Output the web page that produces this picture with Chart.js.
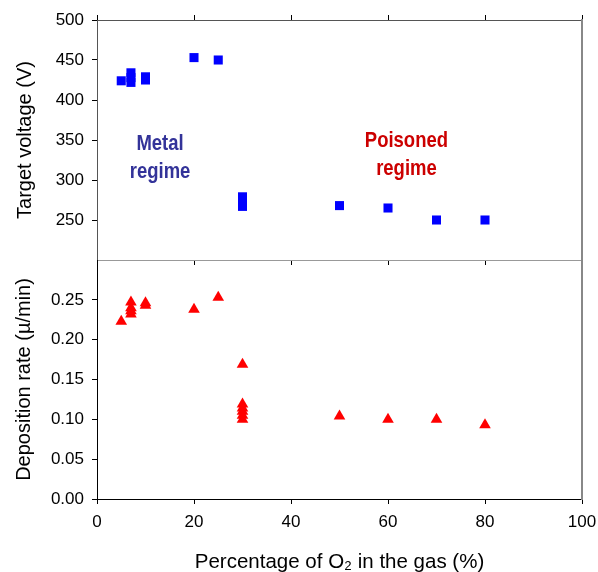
<!DOCTYPE html>
<html>
<head>
<meta charset="utf-8">
<script src="https://cdn.jsdelivr.net/npm/chart.js@4"></script>
<style>
  body { margin: 0; background: #fff; }
  #wrap { position: relative; width: 598px; height: 572px; overflow: hidden; }
  canvas { position: absolute; left: 0; top: 0; }
</style>
</head>
<body>
<div id="wrap">
  <canvas id="voltageChart" width="598" height="272"></canvas>
  <canvas id="rateChart" width="598" height="572"></canvas>
</div>
<script>
// O2 percentage for each measured point
const o2Voltage = [5, 7, 7, 7, 10, 10, 20, 25, 30, 30, 30, 50, 60, 70, 80];
const targetVoltage = [424, 434, 428, 422, 429, 425, 453, 450, 279, 273, 267, 268, 265, 250, 250];

const o2Rate = [5, 7, 7, 7, 7, 10, 10, 20, 25, 30, 30, 30, 30, 30, 30, 50, 60, 70, 80];
const depositionRate = [0.223, 0.247, 0.240, 0.236, 0.232, 0.246, 0.243, 0.238, 0.253, 0.169,
                        0.119, 0.114, 0.110, 0.105, 0.100, 0.104, 0.100, 0.100, 0.093];

const xTicks = [0, 20, 40, 60, 80, 100];
const voltageTicks = [250, 300, 350, 400, 450, 500];
const rateTicks = [0.00, 0.05, 0.10, 0.15, 0.20, 0.25];

const regimes = [
    { lines: ['Metal', 'regime'], x: 13, y: 345, color: '#333399' },
    { lines: ['Poisoned', 'regime'], x: 63.8, y: 349, color: '#cc0000' }
];

const FONT = "'Liberation Sans', Arial, sans-serif";
Chart.defaults.font.family = FONT;
Chart.defaults.color = '#000';

const toPoints = (xs, ys) => xs.map((x, i) => ({ x: x, y: ys[i] }));
const useTicks = list => scale => { scale.ticks = list.map(v => ({ value: v })); };

// text labels placed in data coordinates of the voltage panel
const regimeText = {
    id: 'regimeText',
    afterDatasetsDraw(chart) {
        const { ctx, scales } = chart;
        ctx.save();
        ctx.font = 'bold 22px ' + FONT;
        ctx.textAlign = 'center';
        ctx.textBaseline = 'middle';
        regimes.forEach(r => {
            const px = scales.x.getPixelForValue(r.x);
            const py = scales.y.getPixelForValue(r.y);
            ctx.fillStyle = r.color;
            r.lines.forEach((t, i) => {
                ctx.save();
                ctx.translate(px, py + i * 28);
                ctx.scale(0.84, 1);   // narrow face as in the original
                ctx.fillText(t, 0, 0);
                ctx.restore();
            });
        });
        ctx.restore();
    }
};

const xAxis = (pos, height, opts) => Object.assign({
    type: 'linear',
    position: pos,
    min: 0,
    max: 100,
    afterBuildTicks: useTicks(xTicks),
    ticks: { display: false },
    grid: { drawOnChartArea: false, color: '#000', tickLength: 5 },
    border: { color: '#555' },
    afterFit: s => { s.height = height; s.paddingLeft = 0; s.paddingRight = 0; }
}, opts);

const rightAxis = {
    position: 'right',
    ticks: { display: false },
    grid: { display: false },
    border: { color: '#888', width: 2 },
    afterFit: s => { s.width = 16; }
};

// Target voltage panel
new Chart(document.getElementById('voltageChart'), {
    type: 'scatter',
    data: {
        datasets: [{
            data: toPoints(o2Voltage, targetVoltage),
            pointStyle: 'rect',
            pointRadius: 6.4,
            backgroundColor: '#0000ff',
            borderWidth: 0
        }]
    },
    options: {
        responsive: false,
        animation: false,
        layout: { padding: 0 },
        plugins: { legend: { display: false }, tooltip: { enabled: false } },
        scales: {
            x: xAxis('bottom', 12, { border: { display: false } }),
            xTop: xAxis('top', 20, {}),
            y: {
                min: 200,
                max: 500,
                afterBuildTicks: useTicks(voltageTicks),
                ticks: { font: { size: 17 }, padding: 8 },
                grid: { drawOnChartArea: false, color: '#000', tickLength: 5 },
                border: { color: '#555' },
                title: {
                    display: true,
                    text: 'Target voltage (V)',
                    font: { size: 20 },
                    padding: { top: 13, bottom: 0 }
                },
                afterFit: s => { s.width = 97; s.paddingTop = 0; s.paddingBottom = 0; }
            },
            yRight: Object.assign({ min: 200, max: 500 }, rightAxis)
        }
    },
    plugins: [regimeText]
});

// Deposition rate panel
new Chart(document.getElementById('rateChart'), {
    type: 'scatter',
    data: {
        datasets: [{
            data: toPoints(o2Rate, depositionRate),
            pointStyle: 'triangle',
            pointRadius: 6.7,
            backgroundColor: '#ff0000',
            borderWidth: 0
        }]
    },
    options: {
        responsive: false,
        animation: false,
        layout: { padding: 0 },
        plugins: { legend: { display: false }, tooltip: { enabled: false } },
        scales: {
            x: xAxis('bottom', 73, {
                ticks: { display: true, font: { size: 17 }, padding: 8 },
                border: { color: '#000' },
                title: {
                    display: true,
                    text: 'Percentage of O\u2082 in the gas (%)',
                    font: { size: 20.5 },
                    padding: { top: 0, bottom: -3 }
                }
            }),
            xTop: xAxis('top', 260, {
                grid: { display: false },
                border: { color: '#999' }
            }),
            y: {
                min: 0,
                max: 0.3,
                afterBuildTicks: useTicks(rateTicks),
                ticks: { font: { size: 17 }, padding: 8, callback: v => v.toFixed(2) },
                grid: { drawOnChartArea: false, color: '#000', tickLength: 5 },
                border: { color: '#000' },
                title: {
                    display: true,
                    text: 'Deposition rate (\u00b5/min)',
                    font: { size: 20 },
                    padding: { top: 12, bottom: 0 }
                },
                afterFit: s => { s.width = 97; s.paddingTop = 0; s.paddingBottom = 0; }
            },
            yRight: Object.assign({ min: 0, max: 0.3 }, rightAxis)
        }
    }
});
</script>
</body>
</html>
